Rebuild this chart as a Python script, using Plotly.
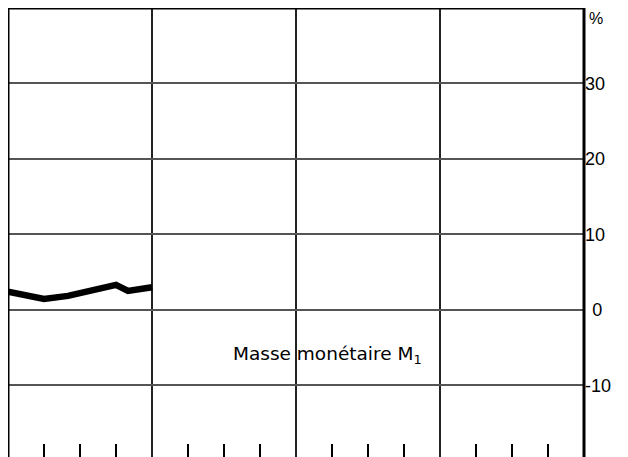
import plotly.graph_objects as go

# Data: months since start (x), growth rate in % (y)
months = [0, 3, 5, 9, 10, 12]
m1_growth = [2.4, 1.45, 1.85, 3.3, 2.5, 3.0]

y_ticks = [-10, 0, 10, 20, 30]
y_labels = ["-10", "\u2009\u20090", "10", "20", "30"]
year_bounds = [12, 24, 36]
quarter_ticks = [3, 6, 9, 15, 18, 21, 27, 30, 33, 39, 42, 45]

fig = go.Figure()
fig.add_trace(go.Scatter(x=months, y=m1_growth, mode="lines",
                         line=dict(color="black", width=6.5),
                         showlegend=False, hoverinfo="skip"))

fig.update_layout(
    width=620, height=449,
    margin=dict(l=0, r=44, t=0, b=0),
    paper_bgcolor="white", plot_bgcolor="white",
    font=dict(family="Liberation Sans, Arial, sans-serif", color="black", size=18),
    xaxis=dict(range=[0, 48], showline=False, zeroline=False,
               tickvals=year_bounds, showticklabels=False, ticks="",
               showgrid=True, gridcolor="#222", gridwidth=1.5,
               minor=dict(tickvals=quarter_ticks, ticks="inside", ticklen=13,
                          tickwidth=1.5, tickcolor="black", showgrid=False)),
    yaxis=dict(range=[-19.5, 40], side="right", showline=False, zeroline=False,
               tickvals=y_ticks, ticktext=y_labels, ticks="",
               showgrid=True, gridcolor="#555", gridwidth=1.5,
               tickfont=dict(size=18, color="black")),
    shapes=[
        dict(type="line", xref="paper", yref="paper", x0=0, x1=0, y0=0, y1=1,
             line=dict(color="black", width=3)),
        dict(type="line", xref="paper", yref="paper", x0=1, x1=1, y0=0, y1=1,
             line=dict(color="black", width=3)),
        dict(type="line", xref="paper", yref="paper", x0=0, x1=1, y0=1, y1=1,
             line=dict(color="black", width=3)),
    ],
    annotations=[
        dict(text="%", xref="paper", yref="paper", x=1.006, y=1.0,
             xanchor="left", yanchor="top", showarrow=False,
             font=dict(size=16)),
        dict(text="Masse monétaire M<sub>1</sub>", x=18.58, y=-5.96,
             xanchor="left", yanchor="middle", showarrow=False,
             font=dict(family="DejaVu Sans, sans-serif", size=18.5)),
    ],
)

fig.write_html("out.html")
